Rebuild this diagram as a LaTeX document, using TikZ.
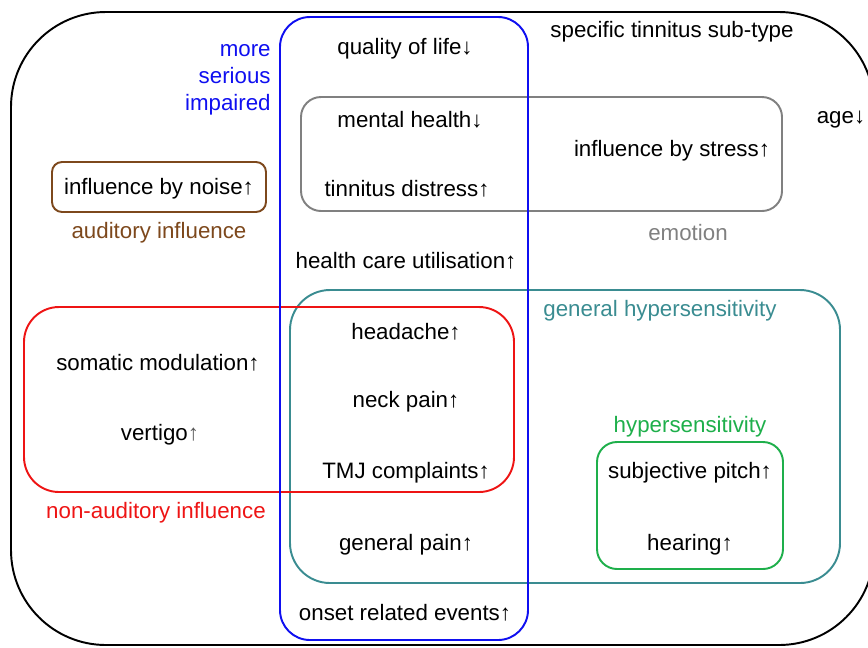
\documentclass[tikz,border=0pt]{standalone}
\usepackage{fontspec}
\setmainfont{Liberation Sans}
\usepackage{xcolor}
\usepackage{tikz}
\usetikzlibrary{positioning}

\definecolor{impblue}{RGB}{15,15,240}
\definecolor{emogray}{RGB}{128,128,128}
\definecolor{audbrown}{RGB}{125,72,28}
\definecolor{nonaudred}{RGB}{238,20,20}
\definecolor{hyperteal}{RGB}{58,140,145}
\definecolor{hypergreen}{RGB}{30,175,75}

\begin{document}
\begin{tikzpicture}[
  x=0.02cm, y=-0.02cm,
  item/.style={inner sep=0pt, yshift=-0.04cm, font=\fontsize{12.7}{15.3}\selectfont},
  group/.style={line width=1.1pt}
]
\useasboundingbox (0,0) rectangle (868,647);
\clip (0,0) rectangle (868,647);

% regions
\draw[group, rounded corners=1.9cm] (11,12) rectangle (874,645);
\draw[group, draw=hyperteal, rounded corners=0.8cm] (290,290) rectangle (840,583);
\draw[group, draw=nonaudred, rounded corners=0.7cm] (24,307) rectangle (514,492);
\draw[group, draw=emogray, rounded corners=0.4cm] (301,97) rectangle (782,211);
\draw[group, draw=audbrown, rounded corners=0.2cm] (52,162) rectangle (266,212);
\draw[group, draw=hypergreen, rounded corners=0.4cm] (597,442) rectangle (783,569);
\draw[group, draw=impblue, rounded corners=0.6cm] (280,17) rectangle (528,640);

% region labels
\node[item, text=impblue, align=right, anchor=east] (serious) at (271,78) {more\\serious\\impaired};
\node[item] (subtype) at (672,30) {specific tinnitus sub-type};
\node[item, text=audbrown] (auditory) at (159,231) {auditory influence};
\node[item, text=emogray] (emotion) at (688,231) {emotion};
\node[item, text=hyperteal] (genhyper) at (660,309) {general hypersensitivity};
\node[item, text=hypergreen] (hyper) at (690,425) {hypersensitivity};
\node[item, text=nonaudred] (nonaud) at (156,511) {non-auditory influence};

% factors
\node[item] (qol) at (405,47) {quality of life↓};
\node[item] (mental) at (410,118) {mental health↓};
\node[item] (age) at (841,118) {age↓};
\node[item] (stress) at (672,149) {influence by stress↑};
\node[item] (distress) at (407,187) {tinnitus distress↑};
\node[item] (noise) at (159,187) {influence by noise↑};
\node[item] (care) at (406,259) {health care utilisation↑};
\node[item] (headache) at (406,330) {headache↑};
\node[item] (somatic) at (158,361) {somatic modulation↑};
\node[item] (neck) at (406,400) {neck pain↑};
\node[item] (vertigo) at (160,433) {vertigo\textcolor{black!65}{↑}};
\node[item] (tmj) at (406,471) {TMJ complaints↑};
\node[item] (pitch) at (690,471) {subjective pitch↑};
\node[item] (pain) at (406,543) {general pain↑};
\node[item] (hearing) at (690,543) {hearing↑};
\node[item] (onset) at (405,611) {onset related events↑};
\end{tikzpicture}
\end{document}
